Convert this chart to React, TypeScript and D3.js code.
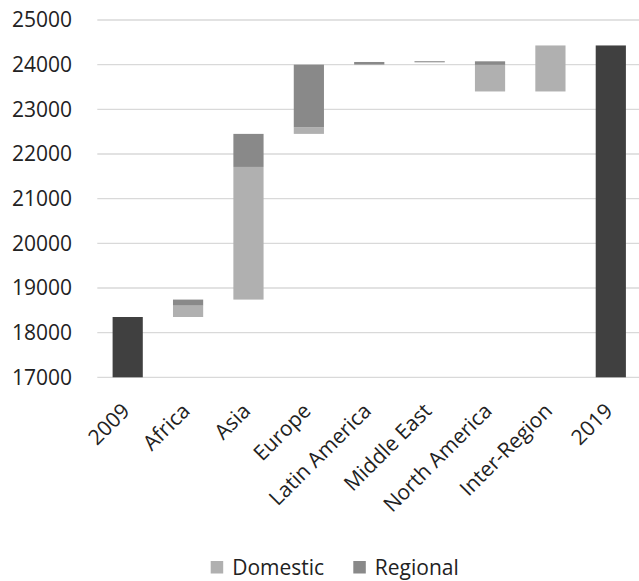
import React from "react";
import * as d3 from "d3";

const categories = ["2009", "Africa", "Asia", "Europe", "Latin America", "Middle East", "North America", "Inter-Region", "2019"];
const startTotal = 18350;
const endTotal = 24430;
const domestic = [0, 255, 2970, 150, 10, 10, -595, 1030, 0];
const regional = [0, 135, 740, 1400, 50, 5, -80, 0, 0];
const yTicks = [17000, 18000, 19000, 20000, 21000, 22000, 23000, 24000, 25000];
const seriesNames = ["Domestic", "Regional"];

const W = 639;
const H = 581;
const FONT = "'Open Sans', sans-serif";
const TEXT = "#222222";
const C_TOTAL = "#404040";
const C_DOM = "#b0b0b0";
const C_REG = "#898989";

export default function App() {
  const x = d3.scaleBand<string>().domain(categories).range([97.5, 641]).paddingInner(0.5).paddingOuter(0.25);
  const y = d3.scaleLinear().domain([17000, 25000]).range([377.3, 20]);
  const bw = x.bandwidth();

  type Seg = { key: string; x: number; y0: number; y1: number; color: string };
  const segs: Seg[] = [];
  let cum = startTotal;
  categories.forEach((c, i) => {
    const xx = x(c)!;
    if (i === 0) {
      segs.push({ key: c, x: xx, y0: 17000, y1: startTotal, color: C_TOTAL });
      return;
    }
    if (i === categories.length - 1) {
      segs.push({ key: c, x: xx, y0: 17000, y1: endTotal, color: C_TOTAL });
      return;
    }
    const d = domestic[i];
    const r = regional[i];
    const next = cum + d + r;
    const base = Math.min(cum, next);
    const dAbs = Math.abs(d);
    const rAbs = Math.abs(r);
    if (dAbs > 0) segs.push({ key: c + "-d", x: xx, y0: base, y1: base + dAbs, color: C_DOM });
    if (rAbs > 0) segs.push({ key: c + "-r", x: xx, y0: base + dAbs, y1: base + dAbs + rAbs, color: C_REG });
    cum = next;
  });

  return (
    <div style={{ position: "absolute", left: 0, top: 0 }}>
      <svg width={W} height={H} style={{ display: "block", background: "#fff" }}>
        {yTicks.map((t) => (
          <g key={t}>
            <line x1={97.3} x2={W} y1={y(t)} y2={y(t)} stroke="#d9d9d9" strokeWidth={1.3} />
            <text x={72} y={y(t)} dy="0.35em" textAnchor="end" fontFamily={FONT} fontSize={21} fill={TEXT}>
              {t}
            </text>
          </g>
        ))}
        {segs.map((s) => (
          <rect key={s.key} x={s.x} width={bw} y={y(s.y1)} height={Math.max(0.8, y(s.y0) - y(s.y1))} fill={s.color} />
        ))}
        {categories.map((c) => {
          const cx = x(c)! + bw / 2;
          return (
            <text
              key={c}
              transform={`translate(${cx - 2},${407}) rotate(-45)`}
              dy="0.35em"
              textAnchor="end"
              fontFamily={FONT}
              fontSize={21}
              fill={TEXT}
            >
              {c}
            </text>
          );
        })}
        {seriesNames.map((n, i) => {
          const lx = i === 0 ? 210.7 : 353.3;
          return (
            <g key={n}>
              <rect x={lx} y={561} width={12.5} height={12.5} fill={i === 0 ? C_DOM : C_REG} />
              <text x={lx + 21.5} y={567.3} dy="0.35em" fontFamily={FONT} fontSize={21} fill={TEXT}>
                {n}
              </text>
            </g>
          );
        })}
      </svg>
    </div>
  );
}
